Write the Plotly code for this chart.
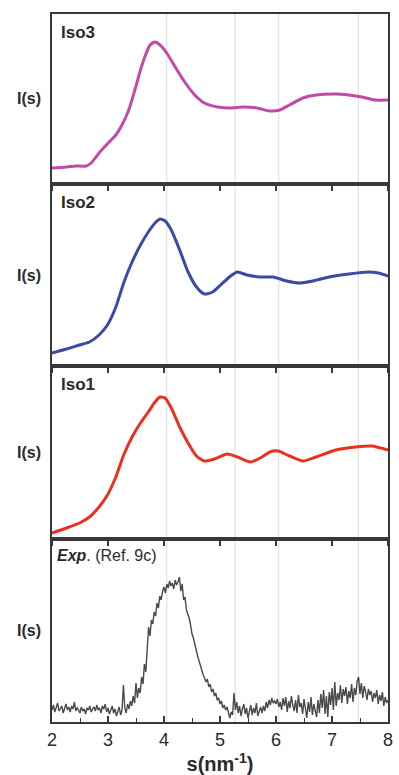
import plotly.graph_objects as go
from plotly.subplots import make_subplots

# ---------------- data ----------------
iso3_s = [2.0, 2.26, 2.43, 2.61, 2.70, 2.84, 3.02, 3.14, 3.25, 3.37, 3.49, 3.58, 3.67, 3.75, 3.84,
          3.93, 4.05, 4.20, 4.37, 4.55, 4.72, 4.96, 5.19, 5.42, 5.66, 5.89, 6.07, 6.24, 6.48, 6.71,
          7.07, 7.30, 7.54, 7.77, 8.0]
iso3_i = [16, 17, 18, 18, 21, 31, 42, 49, 59, 74, 96, 114, 129, 139, 142,
          139, 131, 117, 102, 89, 81, 77, 76, 77, 76, 73, 74, 79, 86, 89,
          90, 89, 87, 84, 84]

iso2_s = [2.0, 2.26, 2.49, 2.67, 2.84, 2.99, 3.14, 3.28, 3.43, 3.58, 3.72, 3.84, 3.93, 4.02, 4.13,
          4.28, 4.43, 4.58, 4.72, 4.87, 5.01, 5.19, 5.31, 5.48, 5.72, 5.95, 6.19, 6.42, 6.66, 6.95,
          7.30, 7.65, 7.83, 8.0]
iso2_i = [13, 17, 21, 24, 31, 41, 59, 83, 104, 121, 134, 143, 147, 145, 136,
          116, 94, 79, 72, 74, 81, 90, 94, 91, 89, 89, 85, 83, 85, 89,
          92, 94, 93, 90]

iso1_s = [2.0, 2.26, 2.49, 2.67, 2.84, 2.99, 3.14, 3.28, 3.43, 3.58, 3.72, 3.84, 3.93, 4.02, 4.13,
          4.28, 4.43, 4.58, 4.72, 4.90, 5.13, 5.31, 5.54, 5.72, 5.89, 6.04, 6.24, 6.48, 6.71, 7.07,
          7.42, 7.71, 8.0]
iso1_i = [6, 11, 16, 22, 32, 44, 62, 84, 102, 116, 127, 137, 142, 141, 131,
          112, 96, 83, 78, 80, 85, 82, 77, 81, 87, 88, 83, 78, 82, 89,
          92, 93, 89]

exp_s0, exp_ds = 2.0, 0.025
exp_i = [
    12, 17, 10, 15, 19, 11, 14, 16, 9, 13,
    18, 12, 15, 10, 16, 13, 20, 11, 14, 12,
    9, 15, 11, 13, 8, 14, 12, 16, 10, 13,
    15, 11, 17, 12, 14, 9, 16, 13, 18, 10,
    14, 8, 12, 16, 9, 13, 6, 11, 15, 7,
    12, 37, 14, 9, 18, 13, 21, 16, 26, 19,
    39, 24, 34, 29, 45, 38, 58, 50, 72, 95,
    86, 102, 98, 110, 106, 119, 114, 126, 122, 131,
    135, 129, 138, 134, 141, 136, 139, 133, 142, 137,
    140, 145, 131, 138, 122, 125, 112, 108, 104, 97,
    88, 84, 76, 72, 66, 61, 55, 51, 47, 44,
    40, 43, 35, 38, 30, 33, 26, 29, 22, 24,
    18, 21, 14, 17, 12, 15, 8, 4, 10, 7,
    29, 12, 20, 9, 16, 6, 13, 18, 8, 14,
    4, 11, 17, 7, 14, 9, 19, 6, 12, 15,
    9, 16, 11, 20, 14, 22, 17, 24, 19, 21,
    18, 23, 15, 20, 12, 24, 16, 25, 10, 21,
    14, 26, 17, 11, 22, 9, 27, 15, 19, 8,
    23, 13, 4, 20, 10, 25, 7, 18, 12, 5,
    22, 9, 28, 14, 32, 8, 26, 5, 30, 17,
    34, 12, 40, 16, 29, 22, 37, 19, 33, 26,
    35, 18, 31, 24, 38, 20, 34, 27, 41, 45,
    28, 39, 24, 36, 30, 22, 33, 27, 31, 20,
    29, 24, 32, 18, 27, 21, 30, 16, 25, 19,
    22,
]
exp_s = [round(exp_s0 + k * exp_ds, 3) for k in range(len(exp_i))]

ref_lines = [4.05, 5.27, 6.05, 7.47]
panel_labels = ["Iso3", "Iso2", "Iso1", "<b><i>Exp</i></b>. (Ref. 9c)"]
x_ticks = [2, 3, 4, 5, 6, 7, 8]

# ---------------- figure ----------------
W, H = 399, 775
ml, mr, mt, mb = 52, 6, 14, 53
ph = H - mt - mb
heights = [170, 182, 173, 183]  # panel pixel heights, top to bottom

fig = make_subplots(rows=4, cols=1, shared_xaxes=False, vertical_spacing=0)

series = [
    (iso3_s, iso3_i, "#c24aa6"),
    (iso2_s, iso2_i, "#3b4aa6"),
    (iso1_s, iso1_i, "#e8321f"),
]
for r, (xs, ys, col) in enumerate(series, start=1):
    fig.add_trace(go.Scatter(x=xs, y=ys, mode="lines",
                             line=dict(color=col, width=3, shape="spline", smoothing=0.6),
                             showlegend=False, hoverinfo="skip"), row=r, col=1)
fig.add_trace(go.Scatter(x=exp_s, y=exp_i, mode="lines",
                         line=dict(color="#4a4a4a", width=1.4),
                         showlegend=False, hoverinfo="skip"), row=4, col=1)

yranges = [[0, 170], [0, 182], [0, 173], [0, 183]]

doms = []
cum = 0
for h in heights:
    top = 1 - cum / ph
    bot = 1 - (cum + h) / ph
    doms.append((bot, top))
    cum += h

frame = "#383838"
font_fam = "Liberation Sans, Arial"
for i in range(4):
    ax = "" if i == 0 else str(i + 1)
    bot, top = doms[i]
    fig.layout["yaxis" + ax].update(domain=[bot, top], range=yranges[i], showticklabels=False,
                                    ticks="", showgrid=False, zeroline=False, showline=True,
                                    mirror=True, linecolor=frame, linewidth=2)
    xa = dict(range=[2, 8], showgrid=False, zeroline=False, showline=True, mirror=True,
              linecolor=frame, linewidth=2, tickvals=x_ticks, tickcolor=frame, tickwidth=1.5)
    if i < 3:
        xa.update(showticklabels=False, ticks="outside", ticklen=5)
    else:
        xa.update(showticklabels=True, ticks="inside", ticklen=6,
                  ticktext=[str(t) for t in x_ticks],
                  tickfont=dict(family=font_fam, size=18, color="#2a2a2a"),
                  minor=dict(dtick=0.5, tick0=2, ticks="inside", ticklen=4, tickcolor=frame, tickwidth=1.2),
                  title=dict(text="<b>s(nm<sup>-1</sup>)</b>", standoff=4,
                             font=dict(family=font_fam, size=20, color="#2a2a2a")))
    fig.layout["xaxis" + ax].update(**xa)

for s in ref_lines:
    fig.add_shape(type="line", xref="x4", yref="paper", x0=s, x1=s, y0=0, y1=1,
                  line=dict(color="#dcdcdc", width=1), layer="below")

pw = W - ml - mr
for i in range(4):
    bot, top = doms[i]
    fig.add_annotation(xref="paper", yref="paper", x=(43 - ml) / pw, y=(bot + top) / 2,
                       text="<b>I(s)</b>", showarrow=False, xanchor="right", yanchor="middle",
                       font=dict(family=font_fam, size=16, color="#2a2a2a"))
    if i < 3:
        fig.add_annotation(xref="paper", yref="paper", x=(59 - ml) / pw, y=top - 7 / ph,
                           text="<b>" + panel_labels[i] + "</b>", showarrow=False,
                           xanchor="left", yanchor="top",
                           font=dict(family=font_fam, size=17, color="#2a2a2a"))
    else:
        fig.add_annotation(xref="paper", yref="paper", x=(55 - ml) / pw, y=top - 6 / ph,
                           text=panel_labels[i], showarrow=False,
                           xanchor="left", yanchor="top",
                           font=dict(family=font_fam, size=16, color="#2a2a2a"))

fig.update_layout(width=W, height=H, margin=dict(l=ml, r=mr, t=mt, b=mb),
                  paper_bgcolor="white", plot_bgcolor="rgba(0,0,0,0)", showlegend=False)

fig.write_html("out.html")
